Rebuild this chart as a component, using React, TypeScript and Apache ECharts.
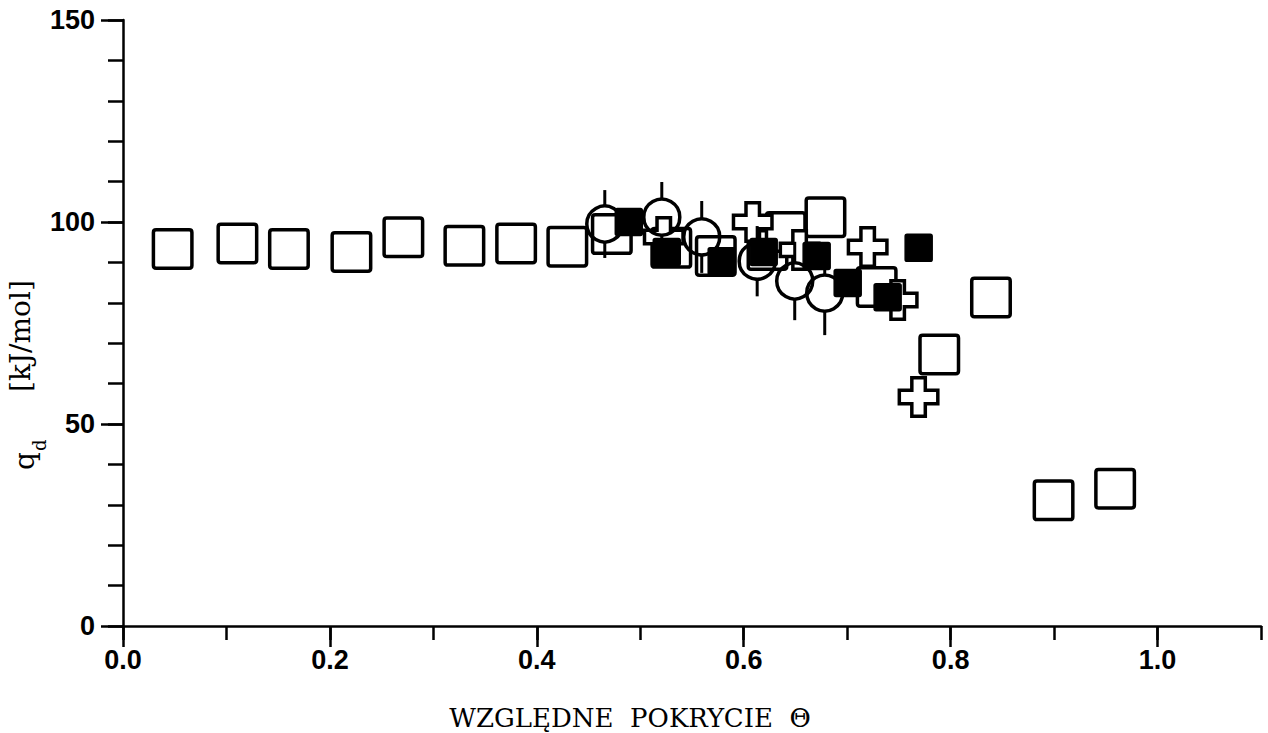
import React, { useEffect, useRef } from "react";
import * as echarts from "echarts";

// Heat of desorption q_d versus relative coverage Θ
const openSquares: [number, number][] = [
  [0.048, 93.3], [0.1106, 94.7], [0.1604, 93.3], [0.2208, 92.6],
  [0.271, 96.2], [0.330, 94.1], [0.380, 94.7], [0.4295, 93.9],
  [0.4725, 97.0], [0.530, 93.6], [0.573, 91.6], [0.623, 93.1],
  [0.6406, 97.5], [0.679, 101.2], [0.7285, 83.9], [0.789, 67.2],
  [0.839, 81.3], [0.8995, 31.1], [0.959, 34.0],
];
const crosses: [number, number][] = [
  [0.5227, 96.3], [0.6087, 100.0], [0.654, 93.1], [0.7198, 93.8],
  [0.7488, 80.7], [0.769, 56.7],
];
const filledSquares: [number, number][] = [
  [0.4889, 100.0], [0.5256, 92.6], [0.5787, 90.3], [0.6193, 92.6],
  [0.6705, 91.6], [0.7005, 84.9], [0.7391, 81.4], [0.7691, 93.6],
];
// x, y, half length of the error bar
const circles: [number, number, number][] = [
  [0.4657, 99.5, 8.4], [0.5208, 101.2, 8.7], [0.5594, 96.3, 8.9],
  [0.613, 90.3, 8.7], [0.6493, 85.4, 9.7], [0.6783, 82.4, 10.4],
];

const xMajorTicks = [0, 0.2, 0.4, 0.6, 0.8, 1.0];
const yMajorTicks = [0, 50, 100, 150];
const xTitle = "WZGLĘDNE  POKRYCIE  Θ";
const yQuantity = "q";
const ySubscript = "d";
const yUnit = "[kJ/mol]";

const SQUARE =
  "path://M7,0H93Q100,0 100,7V93Q100,100 93,100H7Q0,100 0,93V7Q0,0 7,0Z";
const CROSS =
  "path://M32.5,0H67.5V32.5H100V67.5H67.5V100H32.5V67.5H0V32.5H32.5Z";

const AXIS_COLOR = "#000";
const LABEL_FONT = "Liberation Sans";
const TITLE_FONT = "DejaVu Serif";

export default function App() {
  const ref = useRef<HTMLDivElement>(null);

  useEffect(() => {
    if (!ref.current) return;
    const chart = echarts.init(ref.current, undefined, { renderer: "svg" });

    const axisLine = { show: true, lineStyle: { color: AXIS_COLOR, width: 2.5 } };
    const tickStyle = { color: AXIS_COLOR, width: 2.5 };
    const labelStyle = {
      fontSize: 27,
      fontFamily: LABEL_FONT,
      fontWeight: "bold",
      color: "#000",
    };
    const openStyle = { color: "#fff", borderColor: "#000", borderWidth: 3.5, opacity: 1 };

    chart.setOption({
      animation: false,
      backgroundColor: "#fff",
      grid: { left: 123, right: 7, top: 20, bottom: 107, containLabel: false },
      xAxis: [
        {
          type: "value",
          min: 0,
          max: 1.1,
          interval: 0.1,
          position: "bottom",
          axisLine,
          axisTick: { show: true, length: 14, lineStyle: tickStyle },
          axisLabel: {
            customValues: xMajorTicks,
            formatter: (v: number) => v.toFixed(1),
            margin: 20,
            ...labelStyle,
          },
          splitLine: { show: false },
        },
        {
          type: "value",
          min: 0,
          max: 1.1,
          position: "bottom",
          axisLine: { show: false },
          axisTick: { show: true, customValues: xMajorTicks, length: 21, lineStyle: tickStyle },
          axisLabel: { show: false },
          splitLine: { show: false },
        },
      ],
      yAxis: [
        {
          type: "value",
          min: 0,
          max: 150,
          interval: 10,
          position: "left",
          axisLine,
          axisTick: { show: true, length: 15, lineStyle: tickStyle },
          axisLabel: {
            customValues: yMajorTicks,
            margin: 28,
            ...labelStyle,
          },
          splitLine: { show: false },
        },
        {
          type: "value",
          min: 0,
          max: 150,
          position: "left",
          axisLine: { show: false },
          axisTick: { show: true, customValues: yMajorTicks, length: 22, lineStyle: tickStyle },
          axisLabel: { show: false },
          splitLine: { show: false },
        },
      ],
      graphic: [
        {
          type: "text",
          x: 630,
          y: 718,
          style: {
            text: xTitle,
            font: `26px "${TITLE_FONT}"`,
            fill: "#000",
            textAlign: "center",
            textVerticalAlign: "middle",
          },
        },
        {
          type: "text",
          x: 24,
          y: 470,
          rotation: Math.PI / 2,
          style: {
            text: yQuantity,
            font: `28px "${TITLE_FONT}"`,
            fill: "#000",
            textAlign: "left",
            textVerticalAlign: "middle",
          },
        },
        {
          type: "text",
          x: 39,
          y: 451,
          rotation: Math.PI / 2,
          style: {
            text: ySubscript,
            font: `18px "${TITLE_FONT}"`,
            fill: "#000",
            textAlign: "left",
            textVerticalAlign: "middle",
          },
        },
        {
          type: "text",
          x: 20,
          y: 392,
          rotation: Math.PI / 2,
          style: {
            text: yUnit,
            font: `28px "${TITLE_FONT}"`,
            fill: "#000",
            textAlign: "left",
            textVerticalAlign: "middle",
          },
        },
      ],
      series: [
        {
          type: "scatter",
          data: openSquares,
          symbol: SQUARE,
          symbolSize: 38.5,
          itemStyle: openStyle,
          z: 2,
        },
        {
          type: "scatter",
          data: crosses,
          symbol: CROSS,
          symbolSize: 38.5,
          itemStyle: openStyle,
          z: 3,
        },
        {
          type: "custom",
          data: circles,
          encode: { x: 0, y: 1 },
          z: 4,
          renderItem: (_params: any, api: any) => {
            const x = api.value(0);
            const y = api.value(1);
            const e = api.value(2);
            const c = api.coord([x, y]);
            const top = api.coord([x, y + e]);
            const bottom = api.coord([x, y - e]);
            const r = 18;
            const line = { stroke: "#000", lineWidth: 3 };
            return {
              type: "group",
              children: [
                {
                  type: "line",
                  shape: { x1: c[0], y1: top[1], x2: c[0], y2: c[1] - r },
                  style: line,
                },
                {
                  type: "line",
                  shape: { x1: c[0], y1: c[1] + r, x2: c[0], y2: bottom[1] },
                  style: line,
                },
                {
                  type: "circle",
                  shape: { cx: c[0], cy: c[1], r },
                  style: { fill: "none", stroke: "#000", lineWidth: 3.5 },
                },
              ],
            };
          },
        },
        {
          type: "scatter",
          data: filledSquares,
          symbol: SQUARE,
          symbolSize: 27,
          itemStyle: { color: "#000", borderColor: "#000", borderWidth: 1.5, opacity: 1 },
          z: 5,
        },
      ],
    });

    return () => chart.dispose();
  }, []);

  return (
    <div
      ref={ref}
      style={{
        position: "fixed",
        left: 0,
        top: 0,
        width: 1268,
        height: 733,
        background: "#fff",
      }}
    />
  );
}
